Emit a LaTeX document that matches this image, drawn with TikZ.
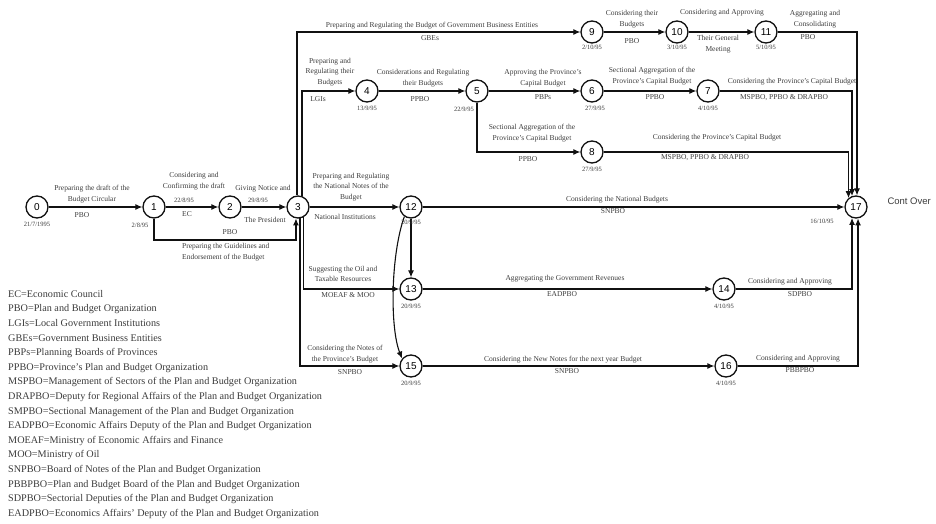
\documentclass[tikz,border=0pt]{standalone}
\usepackage{fontspec}
\setmainfont{Liberation Serif}
\setsansfont{Liberation Sans}
\usetikzlibrary{arrows.meta,positioning}
\definecolor{netline}{HTML}{111111}
\definecolor{nettext}{HTML}{3C3C3C}
\tikzset{
  event/.style={
    circle,
    draw=netline,
    line width=1.3pt,
    fill=white,
    minimum size=22pt,
    inner sep=0pt,
    font=\sffamily\fontsize{10}{10}\selectfont
  },
  flowarrow/.style={-{Latex[length=7pt,width=6pt]}, line width=1.1pt, draw=netline},
  actlabel/.style={inner sep=0pt, align=center, text=nettext, font=\fontsize{7.5}{10.5}\selectfont},
  datelabel/.style={inner sep=0pt, text=nettext, font=\fontsize{6.5}{7}\selectfont},
  legendbox/.style={inner sep=0pt, align=left, text=nettext, font=\fontsize{10.2}{14.6}\selectfont}
}

\begin{document}
\begin{tikzpicture}[x=1pt,y=-1pt]
\useasboundingbox (0,0) rectangle (936,524);
% events
\node[event] (n0) at (37,207) {0};
\node[event] (n1) at (154,207) {1};
\node[event] (n2) at (230,207) {2};
\node[event] (n3) at (298,207) {3};
\node[event] (n4) at (367,91) {4};
\node[event] (n5) at (477,91) {5};
\node[event] (n6) at (592,91) {6};
\node[event] (n7) at (708,91) {7};
\node[event] (n8) at (592,152) {8};
\node[event] (n9) at (592,32) {9};
\node[event] (n10) at (677,32) {10};
\node[event] (n11) at (766,32) {11};
\node[event] (n12) at (411,207) {12};
\node[event] (n13) at (411,289) {13};
\node[event] (n14) at (724,289) {14};
\node[event] (n15) at (411,366) {15};
\node[event] (n16) at (726,366) {16};
\node[event] (n17) at (856,207) {17};
\coordinate (k1) at (200,240);
% activities
\draw[flowarrow] (n0) -- (n1);
\draw[flowarrow] (n1) -- (n2);
\draw[flowarrow] (n2) -- (n3);
\draw[flowarrow] (n1.south) |- (k1) -| (n3.260);
\draw[flowarrow] (n3.95) |- (n9);
\draw[flowarrow] (n3.70) |- (n4);
\draw[flowarrow] (n4) -- (n5);
\draw[flowarrow] (n5) -- (n6);
\draw[flowarrow] (n6) -- (n7);
\draw[flowarrow] (n5.south) |- (n8);
\draw[flowarrow] (n9) -- (n10);
\draw[flowarrow] (n10) -- (n11);
\draw[flowarrow] (n11) -| (n17.85);
\draw[flowarrow] (n7) -| (n17.110);
\draw[flowarrow] (n8) -| (n17.130);
\draw[flowarrow] (n3) -- (n12);
\draw[flowarrow] (n12) -- (n17);
\draw[flowarrow] (n12) -- (n13);
\draw[flowarrow] (n12.235) .. controls +(-14,40) and +(-12,-30) .. (n15.140);
\draw[flowarrow] (n3.300) |- (n13);
\draw[flowarrow] (n3.280) |- (n15);
\draw[flowarrow] (n13) -- (n14);
\draw[flowarrow] (n15) -- (n16);
\draw[flowarrow] (n14) -| (n17.250);
\draw[flowarrow] (n16) -| (n17.280);
% labels on the activities
\node[actlabel] (a01) at (92,194) {Preparing the draft of the\\Budget Circular};
\node[actlabel] (b01) at (82,215) {PBO};
\node[actlabel] (a12) at (194,181) {Considering and\\Confirming the draft};
\node[datelabel] (t12) at (184,200) {22/8/95};
\node[actlabel] (b12) at (187,214) {EC};
\node[actlabel] (a23) at (263,189) {Giving Notice and};
\node[datelabel] (t23) at (258,200) {29/8/95};
\node[actlabel] (b23) at (265,220) {The President};
\node[actlabel] (a13) at (230,232) {PBO};
\node[actlabel, align=left, anchor=west] (b13) at (182,252) {Preparing the Guidelines and\\Endorsement of the Budget};
\node[actlabel] (a39) at (432,26) {Preparing and Regulating the Budget of Government Business Entities};
\node[actlabel] (b39) at (430,38) {GBEs};
\node[actlabel] (a34) at (330,72) {Preparing and\\Regulating their\\Budgets};
\node[actlabel] (b34) at (318,99) {LGIs};
\node[actlabel] (a45) at (423,78) {Considerations and Regulating\\their Budgets};
\node[actlabel] (b45) at (420,99) {PPBO};
\node[actlabel] (a56) at (543,78) {Approving the Province's\\Capital Budget};
\node[actlabel] (b56) at (543,97) {PBPs};
\node[actlabel] (a67) at (652,76) {Sectional Aggregation of the\\Province's Capital Budget};
\node[actlabel] (b67) at (655,97) {PPBO};
\node[actlabel] (a717) at (792,82) {Considering the Province's Capital Budget};
\node[actlabel] (b717) at (784,98) {MSPBO, PPBO \& DRAPBO};
\node[actlabel] (a58) at (532,133) {Sectional Aggregation of the\\Province's Capital Budget};
\node[actlabel] (b58) at (528,159) {PPBO};
\node[actlabel] (a817) at (717,138) {Considering the Province's Capital Budget};
\node[actlabel] (b817) at (705,158) {MSPBO, PPBO \& DRAPBO};
\node[actlabel] (a910) at (632,19) {Considering their\\Budgets};
\node[actlabel] (b910) at (632,41) {PBO};
\node[actlabel] (a1011) at (722,13) {Considering and Approving};
\node[actlabel] (b1011) at (718,44) {Their General\\Meeting};
\node[actlabel] (a1117) at (815,19) {Aggregating and\\Consolidating};
\node[actlabel] (b1117) at (808,37) {PBO};
\node[actlabel] (a312) at (351,187) {Preparing and Regulating\\the National Notes of the\\Budget};
\node[actlabel] (b312) at (345,217) {National Institutions};
\node[actlabel] (a1217) at (617,200) {Considering the National Budgets};
\node[actlabel] (b1217) at (613,211) {SNPBO};
\node[actlabel] (a313) at (343,274) {Suggesting the Oil and\\Taxable Resources};
\node[actlabel] (b313) at (348,295) {MOEAF \& MOO};
\node[actlabel] (a1314) at (565,279) {Aggregating the Government Revenues};
\node[actlabel] (b1314) at (562,294) {EADPBO};
\node[actlabel] (a1417) at (790,282) {Considering and Approving};
\node[actlabel] (b1417) at (800,294) {SDPBO};
\node[actlabel] (a315) at (345,354) {Considering the Notes of\\the Province's Budget};
\node[actlabel] (b315) at (350,372) {SNPBO};
\node[actlabel] (a1516) at (563,360) {Considering the New Notes for the next year Budget};
\node[actlabel] (b1516) at (567,371) {SNPBO};
\node[actlabel] (a1617) at (798,359) {Considering and Approving};
\node[actlabel] (b1617) at (800,370) {PBBPBO};
% dates of the events
\node[datelabel, below=3pt of n0] (d0) {21/7/1995};
\node[datelabel, below=4pt of n1, xshift=-14pt] (d1) {2/8/95};
\node[datelabel, below=3pt of n4] (d4) {13/9/95};
\node[datelabel, below=4pt of n5, xshift=-13pt] (d5) {22/9/95};
\node[datelabel, below=3pt of n6, xshift=3pt] (d6) {27/9/95};
\node[datelabel, below=3pt of n7] (d7) {4/10/95};
\node[datelabel, below=3pt of n8] (d8) {27/9/95};
\node[datelabel, below=1pt of n9] (d9) {2/10/95};
\node[datelabel, below=1pt of n10] (d10) {3/10/95};
\node[datelabel, below=1pt of n11] (d11) {5/10/95};
\node[datelabel, below=1pt of n12] (d12) {20/9/95};
\node[datelabel, below=3pt of n13] (d13) {20/9/95};
\node[datelabel, below=3pt of n14] (d14) {4/10/95};
\node[datelabel, below=3pt of n15] (d15) {20/9/95};
\node[datelabel, below=3pt of n16] (d16) {4/10/95};
\node[datelabel] (d17) at (822,221) {16/10/95};
\node[font=\sffamily\fontsize{9.5}{10}\selectfont, text=nettext, anchor=west] (cont) at (884,201) {Cont Over};
% abbreviations
\node[legendbox, anchor=north west] (legend) at (8,290) {EC=Economic Council\\
PBO=Plan and Budget Organization\\
LGIs=Local Government Institutions\\
GBEs=Government Business Entities\\
PBPs=Planning Boards of Provinces\\
PPBO=Province's Plan and Budget Organization\\
MSPBO=Management of Sectors of the Plan and Budget Organization\\
DRAPBO=Deputy for Regional Affairs of the Plan and Budget Organization\\
SMPBO=Sectional Management of the Plan and Budget Organization\\
EADPBO=Economic Affairs Deputy of the Plan and Budget Organization\\
MOEAF=Ministry of Economic Affairs and Finance\\
MOO=Ministry of Oil\\
SNPBO=Board of Notes of the Plan and Budget Organization\\
PBBPBO=Plan and Budget Board of the Plan and Budget Organization\\
SDPBO=Sectorial Deputies of the Plan and Budget Organization\\
EADPBO=Economics Affairs' Deputy of the Plan and Budget Organization};
\end{tikzpicture}
\end{document}
